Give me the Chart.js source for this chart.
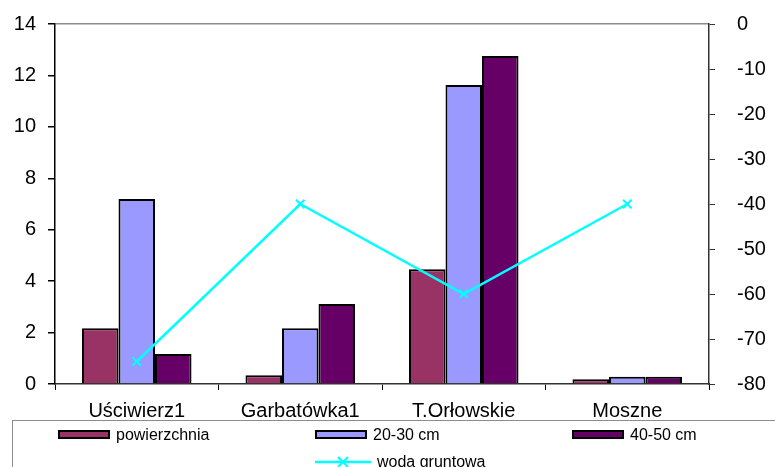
<!DOCTYPE html>
<html>
<head>
<meta charset="utf-8">
<script src="https://cdn.jsdelivr.net/npm/chart.js@4/dist/chart.umd.min.js"></script>
<style>
    body { margin: 0; background: #fff; overflow: hidden; }
    #wrap { position: relative; width: 775px; height: 467px; }
    #legend {
        position: absolute; left: 12px; top: 420px; width: 800px; height: 80px;
        border: 1px solid #8c8c8c; box-sizing: border-box;
        display: grid; grid-template-columns: 257px 257px 257px; grid-auto-rows: 27px;
        padding-left: 45px; font-family: "Liberation Sans", Arial, sans-serif; font-size: 16px; color: #000;
    }
    .item { display: flex; align-items: center; }
    .swatch { width: 52px; height: 9px; border: 2px solid #000; box-sizing: border-box; margin-right: 6px; }
</style>
</head>
<body>
<div id="wrap">
    <canvas id="chart" width="775" height="467"></canvas>
    <div id="legend"></div>
</div>
<script>
const categories = ['Uściwierz1', 'Garbatówka1', 'T.Orłowskie', 'Moszne'];
const powierzchnia = [2.17, 0.34, 4.46, 0.18];
const cm20_30 = [7.19, 2.17, 11.63, 0.28];
const cm40_50 = [1.17, 3.11, 12.76, 0.28];
const wodaGruntowa = [-75, -40, -60, -40];

const font = 'Liberation Sans, Arial, sans-serif';
Chart.defaults.color = '#000';
Chart.defaults.font.family = font;

const barStyle = { borderColor: '#000', borderWidth: 2, categoryPercentage: 0.67, barPercentage: 1.0, order: 1 };

// stała szerokość osi, bez dodatkowego marginesu od etykiet
const fixWidth = (w) => (s) => { s.width = w; s.paddingTop = 10; s.paddingBottom = 10; };

const chart = new Chart(document.getElementById('chart').getContext('2d'), {
    type: 'bar',
    data: {
        labels: categories,
        datasets: [
            { label: 'powierzchnia', data: powierzchnia, backgroundColor: '#993366', ...barStyle },
            { label: '20-30 cm', data: cm20_30, backgroundColor: '#9999ff', ...barStyle },
            { label: '40-50 cm', data: cm40_50, backgroundColor: '#660066', ...barStyle },
            {
                type: 'line', label: 'woda gruntowa', data: wodaGruntowa, yAxisID: 'y1',
                borderColor: '#00ffff', backgroundColor: '#00ffff', borderWidth: 2.5, tension: 0,
                pointStyle: 'crossRot', pointRadius: 6, pointBorderWidth: 2, order: 0
            }
        ]
    },
    options: {
        responsive: false,
        animation: false,
        layout: { padding: { top: 24, bottom: 47, left: 0, right: 0 } },
        plugins: { legend: { display: false }, tooltip: { enabled: false } },
        scales: {
            x: {
                grid: { color: 'transparent', tickColor: '#000', tickLength: 6, offset: true },
                border: { color: '#333', width: 1.5 },
                ticks: { font: { size: 20 }, padding: 9, maxRotation: 0 },
                afterFit: (s) => { s.height = 36; }
            },
            y: {
                min: 0, max: 14,
                ticks: { stepSize: 2, font: { size: 20 }, padding: 12 },
                grid: {
                    color: (c) => c.tick && c.tick.value === 14 ? '#8c8c8c' : 'transparent',
                    lineWidth: 1.5, tickColor: '#000', tickLength: 7
                },
                border: { color: '#000', width: 1.5 },
                afterFit: fixWidth(55)
            },
            y1: {
                position: 'right', min: -80, max: 0,
                ticks: { stepSize: 10, font: { size: 20 }, padding: 22 },
                grid: { drawOnChartArea: false, tickColor: '#333', tickLength: 6 },
                border: { color: '#333', width: 1.5 },
                afterFit: fixWidth(66)
            }
        }
    }
});

// legenda w stylu Excela
const legend = document.getElementById('legend');
const ds = chart.data.datasets;
ds.forEach((d, i) => {
    const item = document.createElement('div');
    item.className = 'item';
    if (d.type === 'line') {
        item.style.gridColumn = '2';
        item.innerHTML = `<svg width="56" height="14" style="margin-right:6px">
            <line x1="0" y1="7" x2="56" y2="7" stroke="${d.borderColor}" stroke-width="2.5"/>
            <path d="M23 2 L33 12 M33 2 L23 12" stroke="${d.borderColor}" stroke-width="2"/></svg>`;
    } else {
        const sw = document.createElement('div');
        sw.className = 'swatch';
        sw.style.background = d.backgroundColor;
        item.appendChild(sw);
    }
    const t = document.createElement('span');
    t.textContent = d.label;
    item.appendChild(t);
    legend.appendChild(item);
});
</script>
</body>
</html>
